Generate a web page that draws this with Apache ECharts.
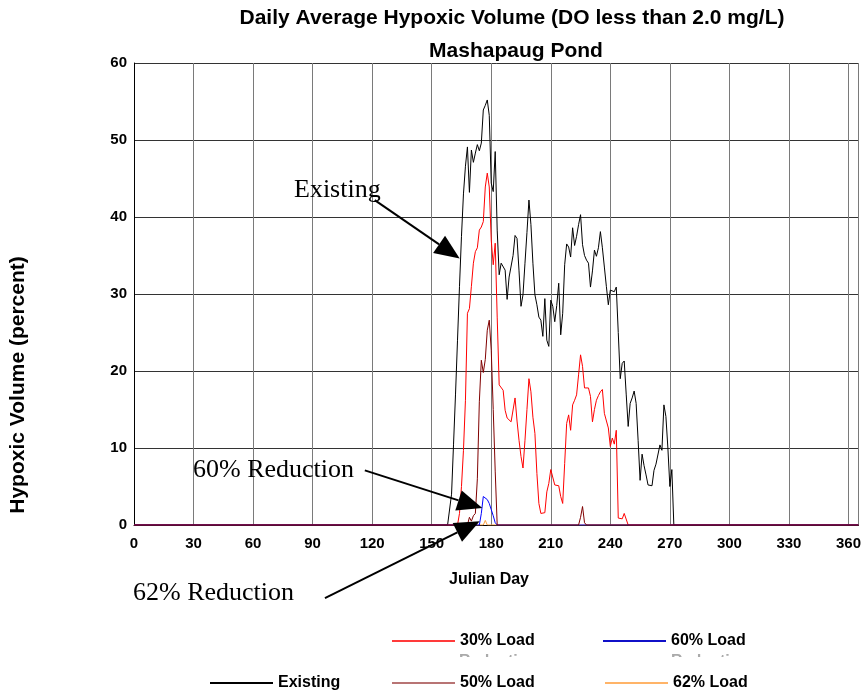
<!DOCTYPE html>
<html>
<head>
<meta charset="utf-8">
<script src="https://cdn.jsdelivr.net/npm/echarts@6.0.0/dist/echarts.min.js"></script>
<style>
  html, body { margin: 0; background: #fff; }
  #chart { width: 864px; height: 696px; }
</style>
</head>
<body>
<div id="chart"></div>
<script>
// 各情景逐日数据 (Julian Day 起始日 + 逐日值)
const existingStart = 158
const existing = [0, 0, 4, 10.5, 17, 24, 31, 37.5, 43, 46.6,
  49.1, 43.2, 48.7, 47.1, 48.3, 49.4, 48.6, 49.6, 53.9, 54.5,
  55.2, 53.2, 44.4, 43.3, 48.5, 38.3, 32.5, 34, 34.1, 33.1,
  29.3, 32.2, 32.4, 35, 37.6, 37.2, 33, 28.4, 29.9, 34,
  38, 42.2, 39, 34, 29.9, 28.6, 27, 26.6, 24.5, 29.4,
  24, 23.2, 29.2, 28.4, 26.4, 28.5, 31.4, 24.7, 27.5, 33.8,
  36.5, 36.1, 34.8, 38.6, 36.3, 37.5, 39, 40.3, 36.4, 35,
  34.4, 34, 30.9, 33, 35.7, 34.9, 36, 38.1, 36, 33.5,
  31, 28.6, 30.5, 30.4, 30.3, 30.9, 25, 19, 21, 21.3,
  17, 12.8, 15.8, 16.5, 17.4, 15.8, 11, 5.8, 9.2, 7.7,
  6.5, 5.2, 5.1, 5.1, 7.1, 7.9, 7.9, 10.4, 9.7, 15.6,
  14.1, 10, 5, 7.2, 0]

const load30Start = 163
const load30 = [0, 1.5, 5, 9.7, 16.2, 27.5, 28.1, 31, 34, 35.5,
  36, 38.3, 38.7, 39.4, 43.9, 45.7, 43.9, 37, 33.8, 36.6,
  27, 18.2, 18, 17.5, 14.9, 13.9, 14.1, 13.4, 13.6, 16.5,
  13.5, 11, 8.9, 7.4, 11, 15, 19, 17.3, 14, 11.9,
  6.7, 2.8, 1.5, 1.5, 1.6, 4.3, 5.4, 7.2, 7.2, 5.2,
  5.1, 5.1, 3.7, 2.8, 8, 13.2, 14.3, 12.3, 15.6, 16.2,
  16.9, 19.5, 22.1, 20.6, 17.8, 17.8, 17.8, 16.7, 13.4, 15,
  16.2, 16.8, 17.3, 17.6, 14.5, 14.7, 12.6, 10.2, 11.3, 10.5,
  12.3, 0.9, 0.8, 0.8, 1.5, 1.5, 0]

const load50Start = 168
const load50 = [0, 1, 0.5, 1.2, 1.5, 6, 16, 21.4, 19.8, 21.5, 25.3, 26.6, 22.7, 15, 7, 0]
const load50LateStart = 224
const load50Late = [0, 1, 2.4, 0.3, 0]

const load60Start = 174
const load60 = [0, 1.5, 3.7, 3.5, 3.3, 2.8, 2, 1.2, 0.3, 0]

const load62Start = 176
const load62 = [0, 0.6, 0]

const xTicks = [0, 30, 60, 90, 120, 150, 180, 210, 240, 270, 300, 330, 360]

// 标注箭头 (数据坐标: 起点 -> 箭头尖)
const arrows = [
  [[121.3, 42.2], [164.1, 34.6]],
  [[116.3, 7.1], [175.5, 2.2]],
  [[96.2, -9.5], [174.2, 0.5]]
]

const toPoints = (segments) => {
  const pts = [[0, 0]]
  segments.forEach(([start, vals]) => {
    vals.forEach((v, i) => pts.push([start + i, v]))
  })
  pts.push([365, 0])
  return pts
}

const chart = echarts.init(document.getElementById('chart'))

const sans = 'Liberation Sans, Arial, sans-serif'
const serif = 'Liberation Serif, Times New Roman, serif'

const lineSeries = (name, color, data) => ({
  name,
  type: 'line',
  data,
  showSymbol: false,
  symbol: 'none',
  animation: false,
  color,
  lineStyle: { width: 1, color }
})

const legendItem = (name, color, left, top) => ({
  data: [{ name, itemStyle: { color } }],
  left,
  top,
  padding: 0,
  icon: 'rect',
  itemWidth: 63,
  itemHeight: 2,
  itemGap: 6,
  textStyle: { fontFamily: sans, fontWeight: 'bold', fontSize: 16, color: '#000' }
})

const option = {
  animation: false,
  grid: { left: 134, right: 5, top: 63, bottom: 171 },
  xAxis: {
    type: 'value',
    min: 0,
    max: 365,
    interval: 30,
    axisLine: { show: true, lineStyle: { color: '#000', width: 1 } },
    axisTick: { show: false },
    axisLabel: {
      showMaxLabel: false,
      fontFamily: sans,
      fontWeight: 'bold',
      fontSize: 15,
      color: '#000',
      margin: 11,
      formatter: (v) => (xTicks.includes(v) ? String(v) : '')
    },
    splitLine: { show: true, lineStyle: { color: '#7a7a7a', width: 1 } }
  },
  yAxis: {
    type: 'value',
    min: 0,
    max: 60,
    interval: 10,
    axisLine: { show: true, lineStyle: { color: '#000', width: 1 } },
    axisTick: { show: false },
    axisLabel: {
      fontFamily: sans,
      fontWeight: 'bold',
      fontSize: 15,
      color: '#000',
      margin: 7
    },
    splitLine: { show: true, lineStyle: { color: '#333', width: 1 } }
  },
  legend: [
    legendItem('30% Load', '#ff3a3a', 392, 633),
    legendItem('60% Load', '#1010c8', 603, 633),
    legendItem('Existing', '#000000', 210, 675),
    legendItem('50% Load', '#b87474', 392, 675),
    legendItem('62% Load', '#ffb468', 605, 675)
  ],
  series: [
    lineSeries('62% Load', '#ffa040', toPoints([[load62Start, load62]])),
    lineSeries('Existing', '#000000', toPoints([[existingStart, existing]])),
    lineSeries('30% Load', '#ff0000', toPoints([[load30Start, load30]])),
    lineSeries('60% Load', '#0000ff', toPoints([[load60Start, load60]])),
    lineSeries('50% Load', '#800000', toPoints([[load50Start, load50], [load50LateStart, load50Late]]))
  ]
}

chart.setOption(option)

// 文本与箭头标注
const txt = (text, x, y, opts) => ({
  type: 'text',
  x, y,
  silent: true,
  style: Object.assign({ text, fill: '#000', font: `bold 21px ${sans}`, align: 'left', verticalAlign: 'middle' }, opts || {})
})

const g = [
  txt('Daily Average Hypoxic Volume (DO less than 2.0 mg/L)', 512, 18, { align: 'center' }),
  txt('Mashapaug Pond', 516, 51, { align: 'center' }),
  txt('Julian Day', 489, 580, { align: 'center', font: `bold 16px ${sans}` }),
  Object.assign(txt('Hypoxic Volume (percent)', 18, 385, { align: 'center', font: `bold 21px ${sans}` }), { rotation: Math.PI / 2 }),
  txt('Existing', 294, 190, { font: `26px ${serif}` }),
  txt('60% Reduction', 193, 470, { font: `26px ${serif}` }),
  txt('62% Reduction', 133, 593, { font: `26px ${serif}` }),
  txt('Reduction', 459, 662, { font: `bold 16px ${sans}`, fill: '#aaa' }),
  txt('Reduction', 671, 662, { font: `bold 16px ${sans}`, fill: '#aaa' }),
  { type: 'rect', silent: true, z: 200, shape: { x: 455, y: 657, width: 320, height: 14 }, style: { fill: '#fff' } }
]

arrows.forEach(([from, to]) => {
  const p0 = chart.convertToPixel({ gridIndex: 0 }, from)
  const p1 = chart.convertToPixel({ gridIndex: 0 }, to)
  const dx = p1[0] - p0[0], dy = p1[1] - p0[1]
  const len = Math.sqrt(dx * dx + dy * dy)
  const ux = dx / len, uy = dy / len
  const L = 25, W = 21
  const bx = p1[0] - ux * L, by = p1[1] - uy * L
  g.push({
    type: 'line', silent: true, z: 100,
    shape: { x1: p0[0], y1: p0[1], x2: bx, y2: by },
    style: { stroke: '#000', lineWidth: 2 }
  })
  g.push({
    type: 'polygon', silent: true, z: 100,
    shape: { points: [p1, [bx - uy * W / 2, by + ux * W / 2], [bx + uy * W / 2, by - ux * W / 2]] },
    style: { fill: '#000' }
  })
})

chart.setOption({ graphic: g })
</script>
</body>
</html>
